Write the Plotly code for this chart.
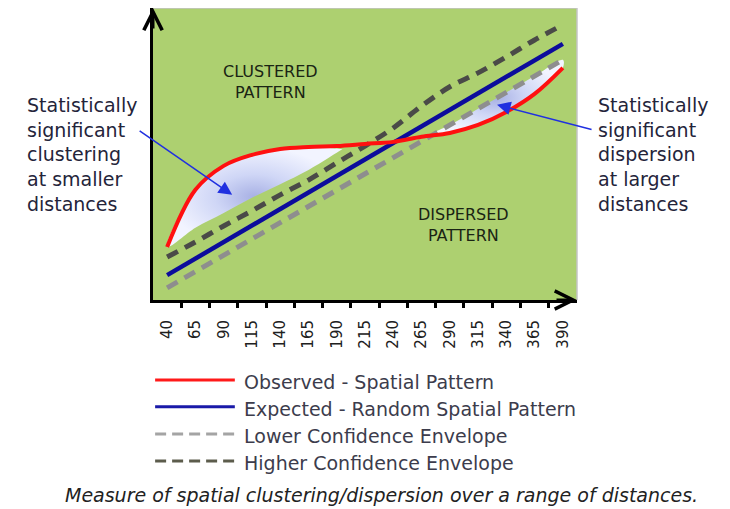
import plotly.graph_objects as go

# distance bands (x axis) and the four L(d) curves
distances = [40, 65, 90, 115, 140, 165, 190, 215, 240, 265, 290, 315, 340, 365, 390]
tick_labels = [str(d) for d in distances]
boundaries = [52.5, 77.5, 102.5, 127.5, 152.5, 177.5, 202.5, 227.5, 252.5,
              277.5, 302.5, 327.5, 352.5, 377.5]

observed = [17.9, 37.2, 45.3, 49.0, 51.0, 51.7, 52.0, 52.7, 53.4, 55.1, 56.4, 59.1, 63.5, 69.6, 78.4]
expected = [8.4, 14.0, 19.6, 25.2, 30.7, 36.3, 41.9, 47.5, 53.0, 58.6, 64.2, 69.8, 75.3, 80.9, 86.5]
lower_env = [4.1, 9.6, 15.1, 20.6, 26.1, 31.6, 37.1, 42.6, 48.1, 53.6, 59.1, 64.6, 70.1, 75.6, 81.1]
higher_env = [14.5, 19.6, 25.0, 30.1, 35.5, 40.5, 46.3, 52.0, 58.1, 65.5, 72.0, 76.7, 82.1, 87.8, 92.9]

# shaded "significant" regions
cluster_x = [40, 65, 90, 115, 140, 165, 195]
cluster_top = [17.9, 37.2, 45.3, 49.0, 51.0, 51.7, 51.0]
cluster_bottom = [17.9, 24.4, 29.4, 34.5, 39.1, 43.9, 51.0]
disp_x = [270, 290, 315, 340, 365, 390]
disp_top = [55.4, 59.1, 64.6, 70.1, 75.6, 81.1]
disp_bottom = [55.4, 56.4, 59.1, 63.5, 69.6, 78.4]

legend_labels = ["Observed - Spatial Pattern", "Expected - Random Spatial Pattern",
                 "Lower Confidence Envelope", "Higher Confidence Envelope"]

FONT = "DejaVu Sans"
GREEN = "#add070"
shade = dict(type="radial", colorscale=[[0, "#a7b0e4"], [0.45, "#cfd6f6"], [1, "#f2f4ff"]])

fig = go.Figure()

# shading
fig.add_trace(go.Scatter(x=cluster_x + cluster_x[::-1], y=cluster_top + cluster_bottom[::-1],
                         fill="toself", fillgradient=shade, mode="lines",
                         line=dict(width=0, shape="spline"), hoverinfo="skip", showlegend=False))
fig.add_trace(go.Scatter(x=disp_x + disp_x[::-1], y=disp_top + disp_bottom[::-1],
                         fill="toself", fillgradient=shade, mode="lines",
                         line=dict(width=0, shape="spline"), hoverinfo="skip", showlegend=False))

# curves
fig.add_trace(go.Scatter(x=distances, y=lower_env, mode="lines", name=legend_labels[2],
                         line=dict(color="#8e8e8e", width=5, dash="12px,8px"), showlegend=False))
fig.add_trace(go.Scatter(x=distances, y=higher_env, mode="lines", name=legend_labels[3],
                         line=dict(color="#4a4a48", width=5, dash="12px,8px", shape="spline"),
                         showlegend=False))
fig.add_trace(go.Scatter(x=distances, y=expected, mode="lines", name=legend_labels[1],
                         line=dict(color="#0c0c9c", width=4.5), showlegend=False))
fig.add_trace(go.Scatter(x=distances, y=observed, mode="lines", name=legend_labels[0],
                         line=dict(color="#ff1010", width=4, shape="spline"), showlegend=False))

# hand-drawn legend below the axis
leg_colors = ["#ff1a1a", "#1a1aa8", "#a4a4a4", "#5c5c4c"]
leg_dash = ["solid", "solid", "11px,6px", "11px,6px"]
leg_y = [-0.274, -0.366, -0.459, -0.551]
shapes = []
annos = []
for lab, col, dsh, yy in zip(legend_labels, leg_colors, leg_dash, leg_y):
    shapes.append(dict(type="line", xref="paper", yref="paper", x0=0.005, x1=0.193,
                       y0=yy, y1=yy, line=dict(color=col, width=3, dash=dsh)))
    annos.append(dict(xref="paper", yref="paper", x=0.210, y=yy - 0.006, text=lab,
                      showarrow=False, xanchor="left", yanchor="middle",
                      font=dict(family=FONT, size=19, color="#3c3c4c")))

# thin grey frame on top / right of the plot area
shapes.append(dict(type="line", xref="paper", yref="paper", x0=0, x1=1, y0=1, y1=1,
                   line=dict(color="#c4c4c4", width=1.5)))
shapes.append(dict(type="line", xref="paper", yref="paper", x0=1, x1=1, y0=0, y1=1,
                   line=dict(color="#c4c4c4", width=1.5)))

# axis arrow heads
annos.append(dict(x=27.5, y=98.6, xref="x", yref="y", ax=0, ay=22, text="", showarrow=True,
                  arrowhead=5, arrowsize=1.2, arrowwidth=3, arrowcolor="black"))
annos.append(dict(x=402.5, y=0, xref="x", yref="y", ax=-22, ay=0, text="", showarrow=True,
                  arrowhead=5, arrowsize=1.2, arrowwidth=3, arrowcolor="black"))

# region labels
annos.append(dict(x=131, y=73.6, text="CLUSTERED<br>PATTERN", showarrow=False,
                  font=dict(family=FONT, size=16, color="#1a2414")))
annos.append(dict(x=301.7, y=25.3, text="DISPERSED<br>PATTERN", showarrow=False,
                  font=dict(family=FONT, size=16, color="#1a2414")))

# callouts
annos.append(dict(xref="paper", yref="paper", x=-0.302, y=0.500, xanchor="left", yanchor="middle",
                  align="left", showarrow=False,
                  text="Statistically<br>significant<br>clustering<br>at smaller<br>distances",
                  font=dict(family=FONT, size=19, color="#24243a")))
annos.append(dict(xref="paper", yref="paper", x=1.045, y=0.500, xanchor="left", yanchor="middle",
                  align="left", showarrow=False,
                  text="Statistically<br>significant<br>dispersion<br>at larger<br>distances",
                  font=dict(family=FONT, size=19, color="#24243a")))
annos.append(dict(x=97.5, y=35.5, ax=-94, ay=-65, text="", showarrow=True, arrowhead=2,
                  arrowsize=1.8, arrowwidth=1.5, arrowcolor="#2030e0"))
annos.append(dict(x=331.8, y=65.9, ax=96, ay=25, text="", showarrow=True, arrowhead=2,
                  arrowsize=1.8, arrowwidth=1.5, arrowcolor="#2030e0"))

# caption
annos.append(dict(xref="paper", yref="paper", x=0.540, y=-0.668, xanchor="center", yanchor="middle",
                  showarrow=False,
                  text="<i>Measure of spatial clustering/dispersion over a range of distances.</i>",
                  font=dict(family=FONT, size=19, color="#222222")))

fig.update_layout(
    width=730, height=509,
    margin=dict(l=145, r=161, t=0, b=217),
    plot_bgcolor=GREEN, paper_bgcolor="white",
    showlegend=False,
    shapes=shapes, annotations=annos,
    xaxis=dict(range=[27.5, 402.5], tickmode="array", tickvals=distances, ticktext=tick_labels,
               tickangle=-90, ticks="", ticklabelstandoff=11,
               tickfont=dict(family=FONT, size=15, color="#202020"),
               showgrid=False, zeroline=False, showline=True, linecolor="black", linewidth=3,
               minor=dict(tickmode="array", tickvals=boundaries, ticks="outside", ticklen=5,
                          tickwidth=3, tickcolor="black", showgrid=False)),
    yaxis=dict(range=[0, 98.6], showticklabels=False, ticks="", showgrid=False, zeroline=False,
               showline=True, linecolor="black", linewidth=3),
)

fig.write_html("out.html")
